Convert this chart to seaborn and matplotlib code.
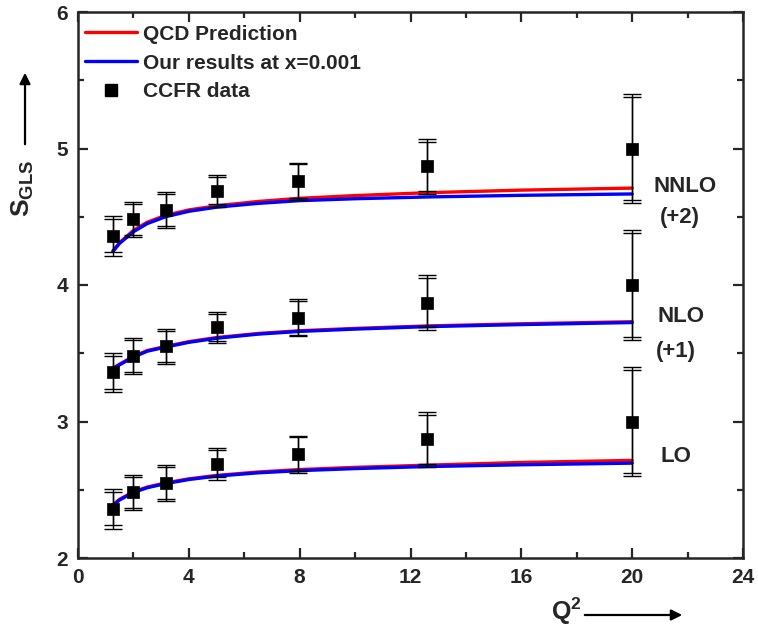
import numpy as np
import pandas as pd
import matplotlib
matplotlib.use("Agg")
import matplotlib.pyplot as plt
from matplotlib.ticker import MultipleLocator
from matplotlib.lines import Line2D
import seaborn as sns

# ---------------- data ----------------
q2_data = [1.26, 2.0, 3.16, 5.01, 7.94, 12.6, 20.0]
sgls_lo = [2.36, 2.48, 2.55, 2.69, 2.76, 2.87, 3.00]
err_stat = [0.12, 0.115, 0.115, 0.10, 0.125, 0.18, 0.38]
err_total = [0.145, 0.13, 0.13, 0.115, 0.135, 0.20, 0.40]
order_shift = [0, 1, 2]

q2_curve = [1.26, 1.5, 2.0, 2.5, 3.16, 4.0, 5.0, 6.5, 8.0, 10.0, 12.6, 16.0, 20.0]
lo_qcd = [2.39, 2.43, 2.485, 2.52, 2.55, 2.58, 2.605, 2.63, 2.648, 2.664, 2.68, 2.70, 2.715]
lo_ours = [2.385, 2.425, 2.48, 2.515, 2.545, 2.575, 2.60, 2.624, 2.64, 2.655, 2.67, 2.683, 2.695]
nlo_qcd = [3.39, 3.42, 3.477, 3.52, 3.55, 3.585, 3.615, 3.645, 3.665, 3.682, 3.70, 3.716, 3.731]
nlo_ours = [3.385, 3.415, 3.472, 3.515, 3.545, 3.58, 3.61, 3.64, 3.66, 3.677, 3.695, 3.71, 3.725]
nnlo_qcd = [4.25, 4.31, 4.40, 4.46, 4.51, 4.55, 4.58, 4.612, 4.635, 4.655, 4.676, 4.695, 4.71]
nnlo_ours = [4.245, 4.305, 4.39, 4.45, 4.50, 4.54, 4.57, 4.598, 4.618, 4.632, 4.645, 4.657, 4.667]

legend_labels = ["QCD Prediction", "Our results at x=0.001", "CCFR data"]
x_ticks = [0, 4, 8, 12, 16, 20, 24]
y_ticks = [2, 3, 4, 5, 6]

# ---------------- style ----------------
sns.set_style("ticks")
plt.rcParams["font.family"] = ["Liberation Sans", "DejaVu Sans"]
plt.rcParams["font.weight"] = "bold"
plt.rcParams["mathtext.fontset"] = "custom"
plt.rcParams["mathtext.bf"] = "Liberation Sans:bold"
plt.rcParams["mathtext.rm"] = "Liberation Sans:bold"

W, H = 758, 628
fig = plt.figure(figsize=(W / 100, H / 100), dpi=100)
ax = fig.add_axes([78 / W, 1 - 558 / H, (743 - 78) / W, (558 - 12) / H])

rows = []
for name, arrs in [(legend_labels[0], [lo_qcd, nlo_qcd, nnlo_qcd]),
                   (legend_labels[1], [lo_ours, nlo_ours, nnlo_ours])]:
    for oi, arr in enumerate(arrs):
        for q, v in zip(q2_curve, arr):
            rows.append({"Q2": q, "S": v, "model": name, "order": oi})
curves = pd.DataFrame(rows)

palette = {legend_labels[0]: "#ff0000", legend_labels[1]: "#0000ff"}
sns.lineplot(data=curves, x="Q2", y="S", hue="model", units="order",
             estimator=None, palette=palette, linewidth=2.4, ax=ax,
             legend=False, zorder=2)

pts = []
for s in order_shift:
    for q, v in zip(q2_data, sgls_lo):
        pts.append({"Q2": q, "S": v + s})
pts = pd.DataFrame(pts)

for s in order_shift:
    y = np.array(sgls_lo) + s
    ax.errorbar(q2_data, y, yerr=err_total, fmt="none", ecolor="black",
                elinewidth=1.0, capsize=6.5, capthick=1.0, zorder=3)
    ax.errorbar(q2_data, y, yerr=err_stat, fmt="none", ecolor="black",
                elinewidth=1.0, capsize=6.5, capthick=1.0, zorder=3)

sns.scatterplot(data=pts, x="Q2", y="S", marker="s", s=80, color="black",
                edgecolor="black", linewidth=0.5, ax=ax, zorder=4, legend=False)

# legend
handles = [Line2D([], [], color="#ff0000", lw=2.4),
           Line2D([], [], color="#0000ff", lw=2.4),
           Line2D([], [], color="black", marker="s", ls="none", markersize=8)]
ax.legend(handles, legend_labels, loc="upper left", frameon=False,
          prop={"weight": "bold", "size": 15}, handlelength=2.5,
          handletextpad=0.25, borderaxespad=0.0, borderpad=0.35,
          labelspacing=0.47, bbox_to_anchor=(0.0, 0.99))

# axes
ax.set_xlim(0, 24)
ax.set_ylim(2, 6)
ax.set_xticks(x_ticks)
ax.set_yticks(y_ticks)
ax.xaxis.set_minor_locator(MultipleLocator(2))
ax.yaxis.set_minor_locator(MultipleLocator(0.5))
ax.tick_params(which="both", direction="in", top=True, right=True, width=1.6,
               labelsize=15, pad=7)
ax.tick_params(which="major", length=7)
ax.tick_params(which="minor", length=4)
for lab in ax.get_xticklabels() + ax.get_yticklabels():
    lab.set_fontweight("bold")
for sp in ax.spines.values():
    sp.set_linewidth(1.8)
    sp.set_visible(True)
ax.set_xlabel("")
ax.set_ylabel("")

# order annotations
txt = dict(fontsize=16, fontweight="bold", ha="center", va="center",
           transform=fig.transFigure)
fig.text(685 / W, 1 - 187 / H, "NNLO", **txt)
fig.text(680 / W, 1 - 218 / H, "(+2)", **txt)
fig.text(681 / W, 1 - 316 / H, "NLO", **txt)
fig.text(676 / W, 1 - 351 / H, "(+1)", **txt)
fig.text(676 / W, 1 - 456 / H, "LO", **txt)

# axis labels with arrows
fig.text(23 / W, 1 - 188 / H, r"$\mathbf{S}_{\mathbf{GLS}}$", rotation=90,
         fontsize=19, ha="center", va="center")
fig.text(566 / W, 1 - 611 / H, r"$\mathbf{Q}^{\mathbf{2}}$",
         fontsize=18, ha="center", va="center")
arrow = dict(arrowstyle="-|>", color="black", lw=1.6, mutation_scale=16)
fig.add_artist(matplotlib.patches.FancyArrowPatch(
    (25 / W, 1 - 147 / H), (25 / W, 1 - 70 / H),
    transform=fig.transFigure, **arrow))
fig.add_artist(matplotlib.patches.FancyArrowPatch(
    (582 / W, 1 - 615 / H), (685 / W, 1 - 615 / H),
    transform=fig.transFigure, **arrow))

fig.savefig("out.png", dpi=100)
